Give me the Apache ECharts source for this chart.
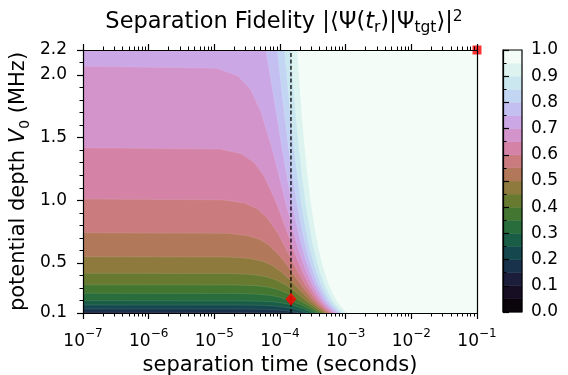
<!DOCTYPE html>
<html>
<head>
<meta charset="utf-8">
<script src="https://cdn.jsdelivr.net/npm/echarts@6/dist/echarts.min.js"></script>
<style>
  html, body { margin: 0; padding: 0; background: #fff; }
  #chart { width: 568px; height: 375px; }
</style>
</head>
<body>
<div id="chart"></div>
<script>
// contour levels (fidelity), each edge is [log10(t / s), V0 in MHz]
const levels = [0.15, 0.20, 0.25, 0.30, 0.35, 0.40, 0.45, 0.50, 0.55, 0.60, 0.65, 0.70, 0.75, 0.80, 0.85, 0.90, 0.95];

// cubehelix, one colour per 0.05 band from 0.00 up to 1.00
const bandColors = [
  "rgb(10,4,11)", "rgb(23,14,36)", "rgb(27,29,59)", "rgb(24,50,75)", "rgb(21,72,78)",
  "rgb(25,93,71)", "rgb(40,109,59)", "rgb(67,119,49)", "rgb(103,122,48)", "rgb(142,122,61)",
  "rgb(177,120,89)", "rgb(201,123,126)", "rgb(212,131,167)", "rgb(211,147,203)", "rgb(203,167,229)",
  "rgb(195,191,241)", "rgb(194,213,243)", "rgb(202,231,240)", "rgb(220,243,239)", "rgb(243,252,247)"
];

const edge15 = [[-7, 0.105], [-4.6, 0.104], [-4.06, 0.1]];
const edge20 = [[-7, 0.132], [-4.559, 0.1315], [-4.238, 0.129], [-4.05, 0.125], [-3.903, 0.118], [-3.699, 0.1]];
const edge25 = [[-7, 0.164], [-4.593, 0.163], [-4.273, 0.161], [-4.086, 0.155], [-3.939, 0.147], [-3.781, 0.132], [-3.573, 0.1]];
const edge30 = [[-7, 0.198], [-4.621, 0.197], [-4.301, 0.194], [-4.115, 0.189], [-3.969, 0.18], [-3.815, 0.164], [-3.638, 0.132], [-3.492, 0.1]];
const edge35 = [[-7, 0.257], [-4.663, 0.256], [-4.341, 0.25], [-4.153, 0.241], [-4.004, 0.226], [-3.842, 0.198], [-3.671, 0.164], [-3.551, 0.132], [-3.431, 0.1]];
const edge40 = [[-7, 0.325], [-4.698, 0.324], [-4.377, 0.318], [-4.189, 0.307], [-4.042, 0.289], [-3.883, 0.257], [-3.698, 0.198], [-3.584, 0.164], [-3.486, 0.132], [-3.382, 0.1]];
const edge45 = [[-7, 0.417], [-4.735, 0.415], [-4.413, 0.407], [-4.226, 0.392], [-4.078, 0.368], [-3.918, 0.325], [-3.738, 0.257], [-3.609, 0.198], [-3.519, 0.164], [-3.434, 0.132], [-3.339, 0.1]];
const edge50 = [[-7, 0.55], [-4.776, 0.547], [-4.454, 0.535], [-4.266, 0.513], [-4.116, 0.479], [-3.954, 0.417], [-3.772, 0.325], [-3.649, 0.257], [-3.544, 0.198], [-3.466, 0.164], [-3.39, 0.132], [-3.301, 0.1]];
const edge55 = [[-7, 0.74], [-4.819, 0.736], [-4.497, 0.718], [-4.308, 0.687], [-4.158, 0.637], [-3.994, 0.55], [-3.889, 0.479], [-3.807, 0.417], [-3.682, 0.325], [-3.583, 0.257], [-3.49, 0.198], [-3.42, 0.164], [-3.35, 0.132], [-3.266, 0.1]];
const edge60 = [[-7, 1.01], [-4.864, 1.003], [-4.542, 0.978], [-4.352, 0.934], [-4.202, 0.864], [-4.037, 0.74], [-3.93, 0.637], [-3.846, 0.55], [-3.716, 0.417], [-3.614, 0.325], [-3.528, 0.257], [-3.443, 0.198], [-3.379, 0.164], [-3.313, 0.132], [-3.233, 0.1]];
const edge65 = [[-7, 1.42], [-4.911, 1.409], [-4.589, 1.372], [-4.399, 1.303], [-4.247, 1.197], [-4.079, 1.01], [-3.972, 0.864], [-3.887, 0.74], [-3.816, 0.637], [-3.754, 0.55], [-3.647, 0.417], [-3.558, 0.325], [-3.48, 0.257], [-3.401, 0.198], [-3.341, 0.164], [-3.278, 0.132], [-3.201, 0.1]];
const edge70 = [[-7, 2.07], [-4.963, 2.054], [-4.64, 1.993], [-4.449, 1.884], [-4.295, 1.714], [-4.125, 1.42], [-4.015, 1.197], [-3.928, 1.01], [-3.857, 0.864], [-3.793, 0.74], [-3.736, 0.637], [-3.683, 0.55], [-3.589, 0.417], [-3.508, 0.325], [-3.436, 0.257], [-3.361, 0.198], [-3.305, 0.164], [-3.244, 0.132], [-3.17, 0.1]];
const edge75 = [[-4.219, 2.2], [-4.174, 2.07], [-4.061, 1.714], [-3.971, 1.42], [-3.897, 1.197], [-3.831, 1.01], [-3.773, 0.864], [-3.719, 0.74], [-3.67, 0.637], [-3.622, 0.55], [-3.537, 0.417], [-3.462, 0.325], [-3.394, 0.257], [-3.323, 0.198], [-3.269, 0.164], [-3.211, 0.132], [-3.138, 0.1]];
const edge80 = [[-4.043, 2.2], [-4.016, 2.07], [-3.94, 1.714], [-3.871, 1.42], [-3.811, 1.197], [-3.754, 1.01], [-3.704, 0.864], [-3.656, 0.74], [-3.611, 0.637], [-3.567, 0.55], [-3.488, 0.417], [-3.418, 0.325], [-3.353, 0.257], [-3.284, 0.198], [-3.232, 0.164], [-3.176, 0.132], [-3.106, 0.1]];
const edge85 = [[-3.931, 2.2], [-3.91, 2.07], [-3.848, 1.714], [-3.789, 1.42], [-3.736, 1.197], [-3.686, 1.01], [-3.64, 0.864], [-3.596, 0.74], [-3.554, 0.637], [-3.513, 0.55], [-3.438, 0.417], [-3.372, 0.325], [-3.31, 0.257], [-3.243, 0.198], [-3.194, 0.164], [-3.139, 0.132], [-3.07, 0.1]];
const edge90 = [[-3.837, 2.2], [-3.82, 2.07], [-3.765, 1.714], [-3.712, 1.42], [-3.664, 1.197], [-3.618, 1.01], [-3.575, 0.864], [-3.534, 0.74], [-3.495, 0.637], [-3.456, 0.55], [-3.385, 0.417], [-3.321, 0.325], [-3.261, 0.257], [-3.197, 0.198], [-3.149, 0.164], [-3.096, 0.132], [-3.029, 0.1]];
const edge95 = [[-3.739, 2.2], [-3.723, 2.07], [-3.673, 1.714], [-3.625, 1.42], [-3.581, 1.197], [-3.538, 1.01], [-3.498, 0.864], [-3.459, 0.74], [-3.422, 0.637], [-3.385, 0.55], [-3.317, 0.417], [-3.256, 0.325], [-3.199, 0.257], [-3.137, 0.198], [-3.091, 0.164], [-3.039, 0.132], [-2.974, 0.1]];

const edges = [edge15, edge20, edge25, edge30, edge35, edge40, edge45, edge50, edge55, edge60, edge65, edge70, edge75, edge80, edge85, edge90, edge95];

const yTicks = [0.1, 0.5, 1.0, 1.5, 2.0, 2.2];
const dashT = -3.833;            // log10 of the marked separation time
const optimum = [[-3.833, 0.21]];
const corner = [[-1, 2.2]];

const X_MIN = -7, X_MAX = -1, Y_MIN = 0.1, Y_MAX = 2.2;
const FONT = "DejaVu Sans";

// minor ticks of a log axis: 2..9 in every decade
const xMinor = [];
for (let n = X_MIN; n < X_MAX; n++) {
  for (let k = 2; k <= 9; k++) xMinor.push(n + Math.log10(k));
}

const chart = echarts.init(document.getElementById("chart"));

const lineBlack = { color: "#000", width: 1.2 };

const option = {
  animation: false,
  backgroundColor: "#fff",
  textStyle: { fontFamily: FONT, color: "#000" },
  title: {
    text: "{a|Separation Fidelity |⟨Ψ(}{i|t}{s|r}{a|)|Ψ}{s|tgt}{a|⟩|}{p|2}",
    left: 279,
    textAlign: "center",
    top: 4,
    textStyle: {
      fontWeight: "normal",
      rich: {
        a: { fontFamily: FONT, fontSize: 22.5, fontWeight: "normal", color: "#000", lineHeight: 27 },
        i: { fontFamily: FONT, fontSize: 22.5, fontWeight: "normal", fontStyle: "italic", color: "#000", lineHeight: 27 },
        s: { fontFamily: FONT, fontSize: 15.5, fontWeight: "normal", color: "#000", verticalAlign: "bottom", lineHeight: 14 },
        p: { fontFamily: FONT, fontSize: 15.5, fontWeight: "normal", color: "#000", verticalAlign: "top", lineHeight: 14 }
      }
    }
  },
  grid: [
    { left: 83, right: 91, top: 50, bottom: 62, show: true, borderWidth: 0, backgroundColor: bandColors[2],
      containLabel: false, outerBoundsMode: "none" },
    { left: 503, width: 19, top: 50, bottom: 63, containLabel: false, outerBoundsMode: "none" }
  ],
  xAxis: [
    {
      gridIndex: 0, type: "value", min: X_MIN, max: X_MAX, interval: 1, position: "bottom", z: 10,
      axisLine: { show: true, lineStyle: lineBlack },
      axisTick: { show: true, length: 6, lineStyle: lineBlack },
      splitLine: { show: false },
      axisLabel: {
        margin: 15,
        formatter: (v) => "{b|10}{e|−" + Math.abs(Math.round(v)) + "}",
        rich: {
          b: { fontFamily: FONT, fontSize: 17, color: "#000", lineHeight: 22, verticalAlign: "bottom" },
          e: { fontFamily: FONT, fontSize: 12, color: "#000", lineHeight: 12, verticalAlign: "top" }
        }
      },
      name: "separation time (seconds)",
      nameLocation: "middle",
      nameGap: 37,
      nameTextStyle: { fontFamily: FONT, fontSize: 21, color: "#000" }
    },
    {
      gridIndex: 0, type: "value", min: X_MIN, max: X_MAX, position: "bottom", z: 10,
      axisLine: { show: false },
      axisTick: { show: true, length: 3.5, customValues: xMinor, lineStyle: { color: "#000", width: 1 } },
      axisLabel: { show: false },
      splitLine: { show: false }
    },
    {
      gridIndex: 0, type: "value", min: X_MIN, max: X_MAX, interval: 1, position: "top", z: 10,
      axisLine: { show: true, lineStyle: lineBlack },
      axisTick: { show: true, length: 6, lineStyle: lineBlack },
      axisLabel: { show: false },
      splitLine: { show: false }
    },
    {
      gridIndex: 0, type: "value", min: X_MIN, max: X_MAX, position: "top", z: 10,
      axisLine: { show: false },
      axisTick: { show: true, length: 3.5, customValues: xMinor, lineStyle: { color: "#000", width: 1 } },
      axisLabel: { show: false },
      splitLine: { show: false }
    },
    {
      gridIndex: 1, type: "value", min: 0, max: 1, show: false
    }
  ],
  yAxis: [
    {
      gridIndex: 0, type: "value", min: Y_MIN, max: Y_MAX, position: "left", z: 10,
      axisLine: { show: true, lineStyle: lineBlack },
      axisTick: { show: true, length: 6, customValues: yTicks, lineStyle: lineBlack },
      axisLabel: {
        customValues: yTicks, margin: 16, fontFamily: FONT, fontSize: 17, color: "#000",
        formatter: (v) => v.toFixed(1)
      },
      splitLine: { show: false },
      name: "{a|potential depth }{i|V}{s|0}{a| (MHz)}",
      nameLocation: "middle",
      nameGap: 51,
      nameMoveOverlap: false,
      nameTextStyle: {
        rich: {
          a: { fontFamily: FONT, fontSize: 21, color: "#000", lineHeight: 26 },
          i: { fontFamily: FONT, fontSize: 21, fontStyle: "italic", color: "#000", lineHeight: 26 },
          s: { fontFamily: FONT, fontSize: 14, color: "#000", verticalAlign: "bottom", lineHeight: 12 }
        }
      }
    },
    {
      gridIndex: 0, type: "value", min: Y_MIN, max: Y_MAX, interval: 0.1, position: "left", z: 10,
      axisLine: { show: false },
      axisTick: { show: true, length: 3.5, lineStyle: { color: "#000", width: 1 } },
      axisLabel: { show: false },
      splitLine: { show: false }
    },
    {
      gridIndex: 0, type: "value", min: Y_MIN, max: Y_MAX, position: "right", z: 10,
      axisLine: { show: true, lineStyle: lineBlack },
      axisTick: { show: false },
      axisLabel: { show: false },
      splitLine: { show: false }
    },
    {
      gridIndex: 1, type: "value", min: 0, max: 1, interval: 0.1, position: "right", z: 10,
      axisLine: { show: true, lineStyle: lineBlack },
      axisTick: { show: true, length: 6, lineStyle: lineBlack },
      minorTick: { show: true, splitNumber: 2, length: 3.5, lineStyle: { color: "#000", width: 1 } },
      axisLabel: { margin: 9, fontFamily: FONT, fontSize: 17, color: "#000", formatter: (v) => v.toFixed(1) },
      splitLine: { show: false }
    }
  ],
  series: [
    {
      // filled contour bands: region with fidelity >= level, painted from low to high
      type: "custom",
      xAxisIndex: 0,
      yAxisIndex: 0,
      clip: true,
      z: 2,
      data: levels.map((l, i) => [-4, 1, i]),
      renderItem: (params, api) => {
        const i = api.value(2);
        const edge = edges[i];
        const pts = edge.map((p) => api.coord(p));
        pts.push(api.coord([X_MAX, Y_MIN]), api.coord([X_MAX, Y_MAX]));
        if (edge[0][0] === X_MIN) pts.push(api.coord([X_MIN, Y_MAX]));
        const color = bandColors[Math.round(levels[i] * 20)];
        return {
          type: "polygon",
          shape: { points: pts },
          style: { fill: color, stroke: "rgba(255,255,255,0.18)", lineWidth: 0.6 }
        };
      }
    },
    {
      type: "line",
      xAxisIndex: 0,
      yAxisIndex: 0,
      z: 4,
      data: [[dashT, Y_MIN], [dashT, Y_MAX]],
      showSymbol: false,
      lineStyle: { color: "#000", width: 1.3, type: [4, 2.4] }
    },
    {
      type: "scatter",
      xAxisIndex: 0,
      yAxisIndex: 0,
      z: 5,
      clip: false,
      symbol: "diamond",
      symbolSize: [11, 13],
      itemStyle: { color: "#ff0000" },
      data: optimum
    },
    {
      type: "scatter",
      xAxisIndex: 0,
      yAxisIndex: 0,
      z: 5,
      clip: false,
      symbol: "rect",
      symbolSize: 9,
      itemStyle: { color: "#ff0000" },
      data: corner
    },
    {
      // colorbar blocks
      type: "custom",
      xAxisIndex: 4,
      yAxisIndex: 3,
      z: 2,
      data: bandColors.map((c, i) => [0.5, i * 0.05 + 0.025, i]),
      renderItem: (params, api) => {
        const i = api.value(2);
        const p0 = api.coord([0, (i + 1) * 0.05]);
        const p1 = api.coord([1, i * 0.05]);
        return {
          type: "rect",
          shape: { x: p0[0], y: p0[1], width: p1[0] - p0[0], height: p1[1] - p0[1] },
          style: { fill: bandColors[i], stroke: bandColors[i], lineWidth: 0.5 }
        };
      }
    },
    {
      // colorbar outline
      type: "custom",
      xAxisIndex: 4,
      yAxisIndex: 3,
      z: 6,
      data: [[0.5, 0.5]],
      renderItem: (params, api) => {
        const p0 = api.coord([0, 1]);
        const p1 = api.coord([1, 0]);
        return {
          type: "rect",
          shape: { x: p0[0], y: p0[1], width: p1[0] - p0[0], height: p1[1] - p0[1] },
          style: { fill: "none", stroke: "#000", lineWidth: 1.2 }
        };
      }
    }
  ]
};

chart.setOption(option);
</script>
</body>
</html>
